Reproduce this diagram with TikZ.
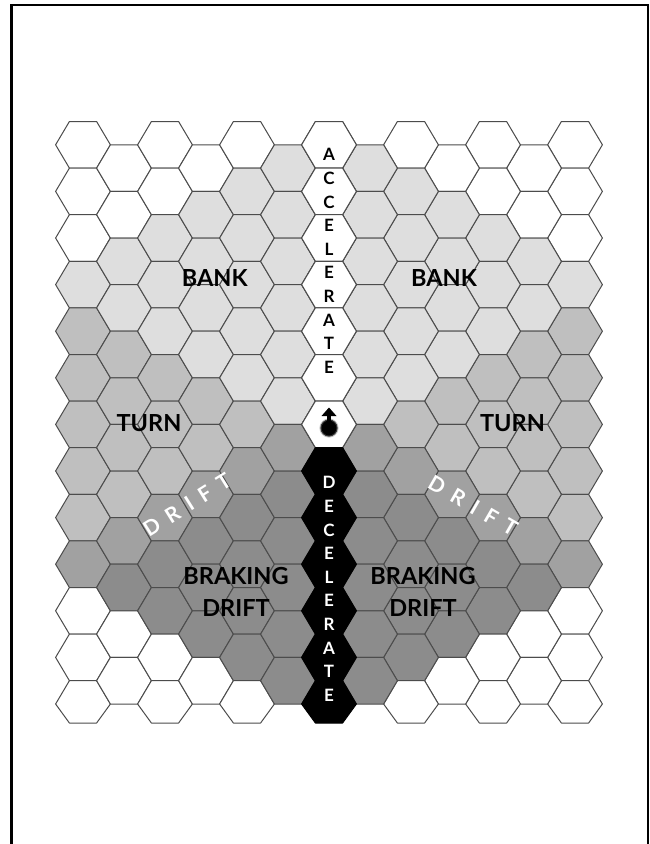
\documentclass[tikz,border=0pt]{standalone}
\usepackage{fontspec}
\setmainfont{Lato}
\newfontfamily\wide[LetterSpace=46]{Lato}
\definecolor{cellW}{gray}{1}
\definecolor{cellB}{gray}{0.87}
\definecolor{cellT}{gray}{0.75}
\definecolor{cellD}{gray}{0.63}
\definecolor{cellK}{gray}{0.55}
\definecolor{cellX}{gray}{0}
\definecolor{hexline}{gray}{0.3}
\newcommand{\hexcell}[4]{% col x-centre, top y, lower half height, colour
  \pgfmathsetmacro{\hx}{83+41*#1}
  \pgfmathsetmacro{\hy}{#2+23.3}
  \filldraw[hexedge,fill=cell#4,draw=#3] (\hx-27.4,\hy) -- (\hx-13.6,\hy-23.3) -- (\hx+13.6,\hy-23.3) -- (\hx+27.4,\hy) -- (\hx+13.6,\hy+\hlow) -- (\hx-13.6,\hy+\hlow) -- cycle;
}
\tikzset{
  hexedge/.style={line width=1pt,line join=round},
  bigword/.style={font=\bfseries\fontsize{23.5}{26}\selectfont,text=black,inner sep=0pt},
  bigstack/.style={font=\bfseries\fontsize{23.5}{31.5}\selectfont,text=black,inner sep=0pt,align=center},
  wordstack/.style={font=\bfseries\fontsize{17}{23.65}\selectfont,align=center,inner sep=0pt},
  whiteword/.style={font=\wide\bfseries\fontsize{21}{22}\selectfont,text=white,inner sep=0pt},
}
\begin{document}
\begin{tikzpicture}[x=1pt,y=-1pt]
\useasboundingbox (0,0) rectangle (649,844);
\fill[white] (0,0) rectangle (649,844);
\draw[line width=2.4pt,black] (11.3,844) -- (11.3,5) -- (648,5) -- (648,844);
% honeycomb, cols 0-5 and their mirror images 12-c
\foreach \c/\cells in {
  0/{W,W,W,B,T,T,T,T,T,D,W,W,W},
  1/{W,W,B,B,T,T,T,T,D,K,W,W},
  2/{W,W,B,B,B,T,T,T,D,K,K,W,W},
  3/{W,B,B,B,B,T,T,D,K,K,K,W},
  4/{W,B,B,B,B,B,T,D,K,K,K,K,W},
  5/{B,B,B,B,B,B,D,K,K,K,K,K},
  6/{W,W,W,W,W,W,W,X,X,X,X,X,X}}{
  \pgfmathtruncatemacro{\isodd}{mod(\c,2)}
  \pgfmathtruncatemacro{\mc}{12-\c}
  \foreach \s [count=\r from 0] in \cells {
    \pgfmathsetmacro{\ty}{121.5+23.3*\isodd+46.6*\r}
    \def\hlow{23.3}
    \ifnum\r=12 \def\hlow{19}\fi
    \if\s X
      \hexcell{\c}{\ty}{black}{\s}
    \else
      \hexcell{\c}{\ty}{hexline}{\s}
      \hexcell{\mc}{\ty}{hexline}{\s}
    \fi
  }
}
% labels
\node[bigword] (bankl) at (214.7,277.7) {BANK};
\node[bigword] (bankr) at (444,277.7) {BANK};
\node[bigword] (turnl) at (149,423.5) {TURN};
\node[bigword] (turnr) at (512.5,423.5) {TURN};
\node[bigstack] (brakel) at (236,592) {BRAKING\\DRIFT};
\node[bigstack] (braker) at (423,592) {BRAKING\\DRIFT};
\node[whiteword,rotate=32] (driftl) at (187,505) {DRIFT};
\node[whiteword,rotate=-30] (driftr) at (473,506) {DRIFT};
\node[wordstack,text=black] (accel) at (329,261) {A\\C\\C\\E\\L\\E\\R\\A\\T\\E};
\node[wordstack,text=white] (decel) at (329,589) {D\\E\\C\\E\\L\\E\\R\\A\\T\\E};
% arrow and ball
\fill[gray!45] (329,428) circle (9.6);
\fill[black!80] (329,428) circle (8.6);
\fill[black] (329,428) circle (7.4);
\fill[black] (327,428) rectangle (331,413);
\fill[black] (329,407.5) -- (336.5,416) -- (321.5,416) -- cycle;
\end{tikzpicture}
\end{document}
